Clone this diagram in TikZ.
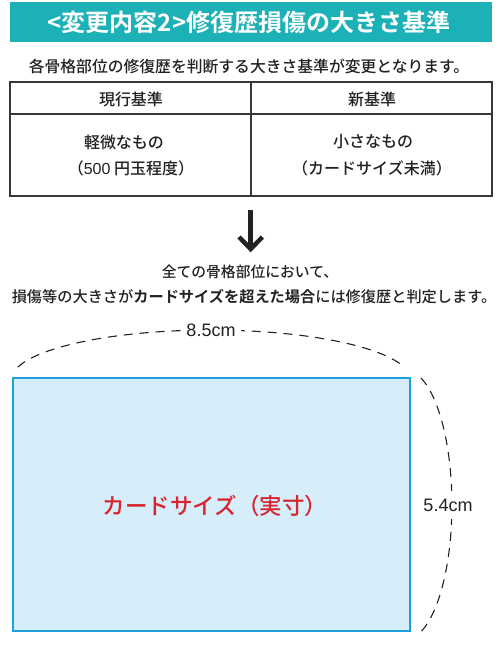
\documentclass[tikz,border=0pt]{standalone}
\usepackage{fontspec}
\setmainfont{Noto Sans CJK JP}[UprightFont=* Medium, BoldFont=* Bold]
\newfontfamily\lat{Liberation Sans}
\definecolor{teal1}{HTML}{1BB1B6}
\definecolor{cardfill}{HTML}{D6EEFA}
\definecolor{cardline}{HTML}{1DA1DB}
\definecolor{cardred}{HTML}{D9232E}
\definecolor{ink}{HTML}{222222}
\tikzset{
  jtext/.style={inner sep=0pt, text=ink},
  dimline/.style={dashed, dash pattern=on 9pt off 7pt, line width=1.1pt, ink},
  dimlabel/.style={fill=white, inner xsep=5pt, inner ysep=2pt, text=ink, font=\lat\fontsize{18}{20}\selectfont},
  tbl/.style={draw=ink!90, line width=1.1pt},
}
\begin{document}
\begin{tikzpicture}[x=1pt,y=1pt]
\useasboundingbox (0,0) rectangle (498,-649);
% banner
\fill[teal1] (10,-2) rectangle (492,-42);
\node[inner sep=0pt, text=white, font=\bfseries\fontsize{24}{26}\selectfont] (title) at (249,-22) {<変更内容2>修復歴損傷の大きさ基準};
\node[jtext, font=\fontsize{15.8}{17}\selectfont] (sub) at (249,-66) {各骨格部位の修復歴を判断する大きさ基準が変更となります。};
% table
\draw[tbl] (10,-82) rectangle (492,-196);
\draw[tbl] (10,-114) -- (492,-114);
\draw[tbl] (251,-82) -- (251,-196);
\node[jtext, font=\fontsize{16}{18}\selectfont] (h1) at (131,-99) {現行基準};
\node[jtext, font=\fontsize{16}{18}\selectfont] (h2) at (372,-99) {新基準};
\node[jtext, font=\fontsize{16}{18}\selectfont] (a1) at (124,-142) {軽微なもの};
\node[jtext, font=\fontsize{16}{18}\selectfont] (a2) at (131,-168) {（{\lat 500} 円玉程度）};
\node[jtext, font=\fontsize{16}{18}\selectfont] (b1) at (373,-142) {小さなもの};
\node[jtext, font=\fontsize{16}{18}\selectfont] (b2) at (372,-168) {（カードサイズ未満）};
% arrow
\coordinate (atop) at (250.7,-210);
\coordinate (atip) at (250.7,-250);
\draw[ink, line width=4.5pt] (atop) -- (atip);
\draw[ink, line width=4.5pt, miter limit=10] (239,-237) -- (250.7,-249) -- (262.4,-237);
% texts
\node[jtext, font=\fontsize{14.8}{17}\selectfont] (t1) at (250,-272) {全ての骨格部位において、};
\node[jtext, font=\fontsize{15.2}{17}\selectfont] (t2) at (254,-297) {損傷等の大きさが\textbf{カードサイズを超えた場合}には修復歴と判定します。};
% card
\draw[fill=cardfill, draw=cardline, line width=2pt] (12.5,-378) rectangle (410,-631);
\node[inner sep=0pt, text=cardred, font=\fontsize{22.5}{24}\selectfont] (card) at (215,-506) {カードサイズ（実寸）};
% dimension arcs
\draw[dimline] (17.8,-367.1) arc[start angle=165, end angle=15, x radius=200, y radius=50];
\node[dimlabel] (w) at (211,-330) {8.5cm};
\draw[dimline] (421,-378) arc[start angle=70, end angle=-70, x radius=47, y radius=135];
\node[dimlabel, inner xsep=1pt, inner ysep=8pt] (h) at (448,-505) {5.4cm};
\end{tikzpicture}
\end{document}
